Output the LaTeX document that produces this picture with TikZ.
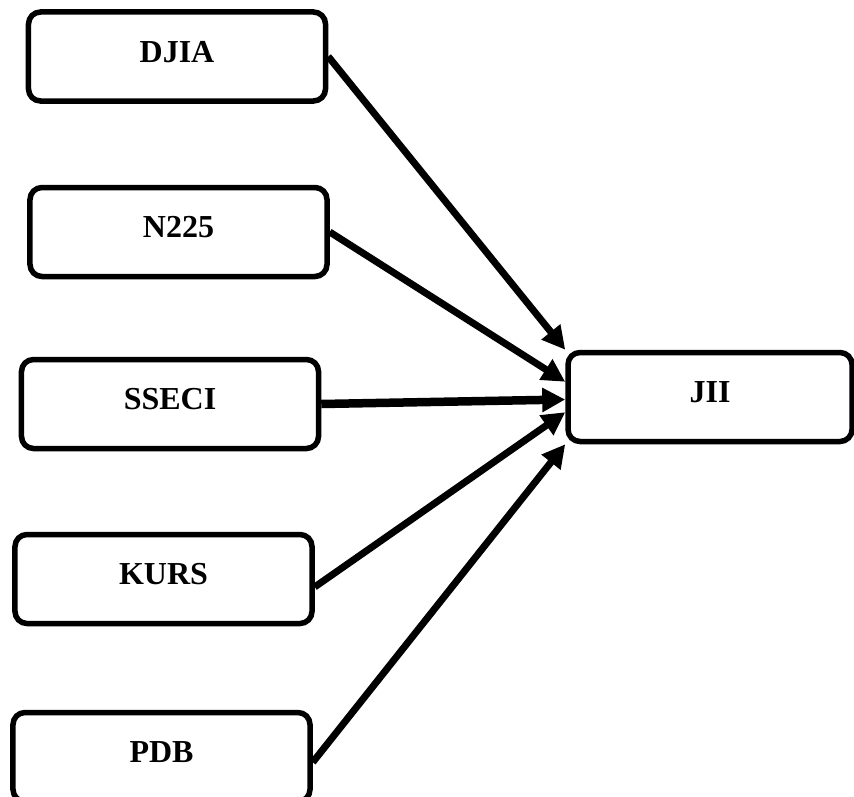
\documentclass[tikz,border=0pt]{standalone}
\usepackage{fontspec}
\setmainfont{Liberation Serif}
\usetikzlibrary{arrows.meta}

\begin{document}
\begin{tikzpicture}[x=1bp, y=-1bp,
    box/.style={draw=black, line width=5.5bp, rounded corners=12bp, fill=white,
    minimum width=297bp, minimum height=89bp, inner sep=0pt, text depth=10bp,
    font=\bfseries\fontsize{32bp}{38bp}\selectfont},
    arr/.style={-{Triangle[length=23bp,width=23bp]}, line width=7bp}]
\useasboundingbox (0,0) rectangle (854,797);
\node[box] (djia) at (177,56.5) {DJIA};
\node[box] (n225) at (178.5,232) {N225};
\node[box] (sseci) at (170,404) {SSECI};
\node[box] (kurs) at (163.5,579) {KURS};
\node[box] (pdb) at (161.5,757) {PDB};
\node[box, minimum width=284bp] (jii) at (710,397) {JII};
\foreach \src/\from/\to/\lw in {djia/east/north west/7, n225/east/174/7, sseci/east/181/8.5, kurs/-3/186/7, pdb/-2/south west/7} {
  \draw[arr, line width=\lw bp] (\src.\from) -- (jii.\to);
}
\end{tikzpicture}
\end{document}
